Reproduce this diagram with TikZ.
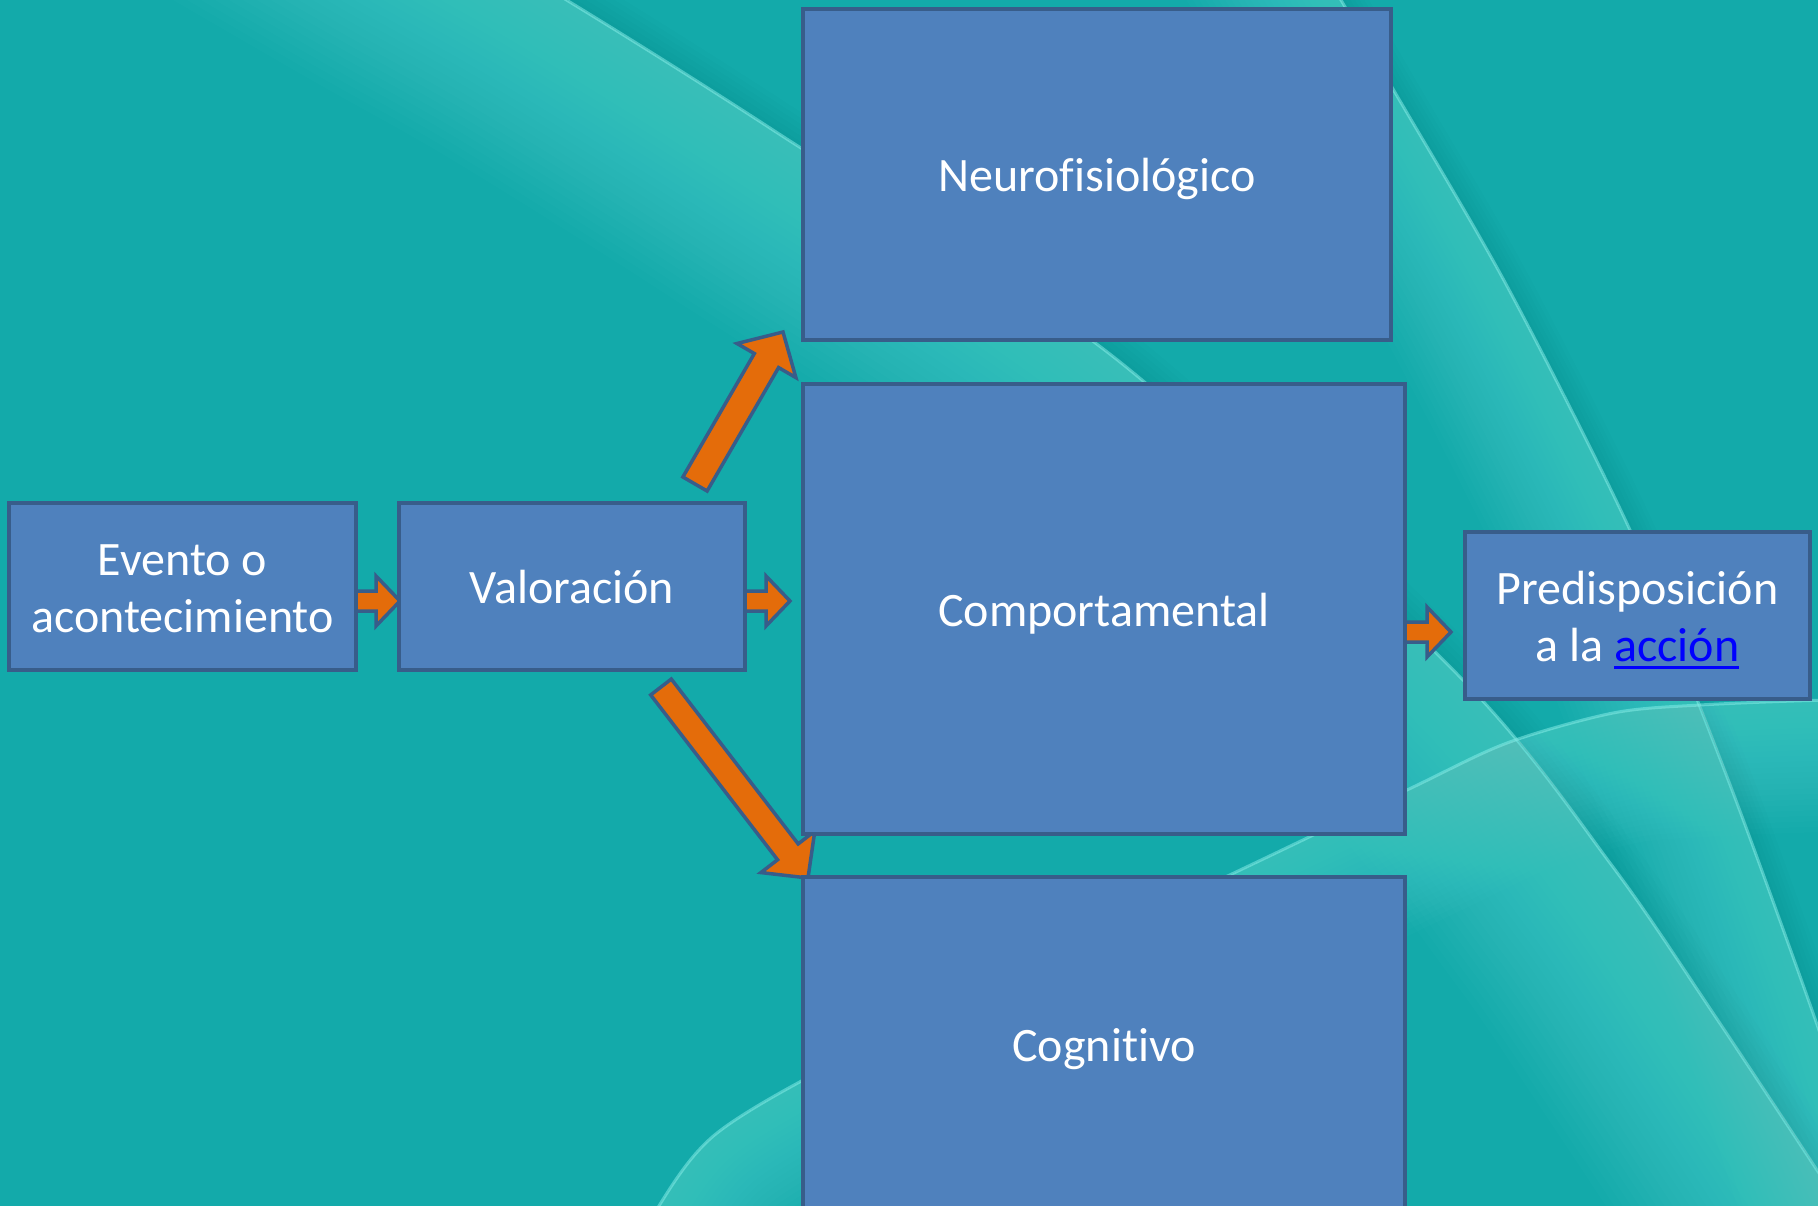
\documentclass[tikz,border=0pt]{standalone}
\usepackage{fontspec}
\setmainfont{Carlito}[Ligatures={NoCommon}]
\usetikzlibrary{calc}

\definecolor{teal0}{HTML}{13AAAA}
\definecolor{sheencol}{HTML}{8AF0EA}
\definecolor{boxfill}{HTML}{4F81BD}
\definecolor{boxline}{HTML}{385D8A}
\definecolor{arrowfill}{HTML}{E46C0A}
\definecolor{linkblue}{HTML}{0000FF}

\pgfdeclarelayer{backdrop}
\pgfdeclarelayer{arrowlayer}
\pgfsetlayers{backdrop,arrowlayer,main}

\tikzset{
  stage/.style={draw=boxline, fill=boxfill, line width=4pt, line join=miter,
    text=white, align=center, inner sep=0pt,
    font=\fontsize{48}{57}\selectfont},
  blockarrow/.style={draw=boxline, fill=arrowfill, line width=3.5pt, line join=miter},
  sheen/.style={sheencol, line cap=butt, line join=round}
}

% a line of box text, set slightly low without changing its size
\newcommand\boxline[2][4.5pt]{\raisebox{-#1}[\height][\depth]{#2}}
% underlined hyperlink-style word
\newcommand\linkword[1]{{\color{linkblue}\setbox0\hbox{#1}\rlap{\rule[-8pt]{\wd0}{3pt}}\box0}}

% wide block arrow: tail, tip, shaft half width, head half width, head length
\newcommand\blockarrow[5]{%
  \draw[blockarrow] let \p1=(#1), \p2=(#2),
    \n1={atan2(\y2-\y1,\x2-\x1)}, \n2={veclen(\x2-\x1,\y2-\y1)} in
    ($(\p1)+(\n1+90:#3pt)$)
    -- ($(\p1)+(\n1:{\n2*1pt-#5pt})+(\n1+90:#3pt)$)
    -- ($(\p1)+(\n1:{\n2*1pt-#5pt})+(\n1+90:#4pt)$)
    -- (\p2)
    -- ($(\p1)+(\n1:{\n2*1pt-#5pt})+(\n1-90:#4pt)$)
    -- ($(\p1)+(\n1:{\n2*1pt-#5pt})+(\n1-90:#3pt)$)
    -- ($(\p1)+(\n1-90:#3pt)$) -- cycle;}

% soft light arcs of the backdrop
\newcommand\arcOne{plot[smooth] coordinates {(150,-240) (400,-95) (550,-10) (773,130) (1120,362) (1463,680) (1613,867) (1713,1013) (1830,1190) (1900,1300) (2000,1450)}}
\newcommand\arcTwo{plot[smooth] coordinates {(1195,-240) (1280,-100) (1335,-10) (1393,89) (1507,286) (1630,530) (1700,707) (1747,830) (1813,1013) (1845,1110) (1880,1220) (1930,1380)}}
\newcommand\arcThree{plot[smooth] coordinates {(510,1400) (590,1300) (640,1235) (717,1133) (900,1030) (1217,881) (1407,790) (1507,743) (1613,713) (1700,705) (1830,700) (1950,700) (2200,700)}}

\begin{document}
\begin{tikzpicture}[x=1pt,y=-1pt]
\useasboundingbox (0,0) rectangle (1818,1206);

% boxes
\node[stage, minimum width=347pt, minimum height=167pt] (evento) at (182.5,586.5) {\boxline[2.2pt]{Evento o}\\\boxline[2.2pt]{acontecimiento}};
\node[stage, minimum width=346pt, minimum height=167pt] (valor) at (572,586.5) {\boxline[1pt]{Valoración}};
\node[stage, minimum width=588pt, minimum height=331pt] (neuro) at (1097,174.5) {\boxline{Neurofisiológico}};
\node[stage, minimum width=602pt, minimum height=450pt] (comport) at (1104,609) {\boxline{Comportamental}};
\node[stage, minimum width=602pt, minimum height=336pt] (cogn) at (1104,1045) {\boxline{Cognitivo}};
\node[stage, minimum width=345pt, minimum height=167pt] (pred) at (1637.5,615.5) {\boxline{Predisposición}\\\boxline{a la \linkword{acción}}};

% backdrop
\begin{pgfonlayer}{backdrop}
  \fill[teal0] (0,0) rectangle (1818,1206);
  \begin{scope}
    \clip (0,0) rectangle (1818,1206);
    % first arc, lit on its lower left
    \begin{scope}
      \clip \arcOne -- (-400,1450) -- (-400,-240) -- cycle;
      \foreach \i in {1,...,28}
        \draw[sheen, opacity=0.018, line width={\i*14pt}] \arcOne;
    \end{scope}
    \begin{scope}
      \clip \arcOne -- (2400,1450) -- (2400,-240) -- cycle;
      \foreach \i in {1,...,6}
        \draw[black, opacity=0.012, line width={\i*10pt}] \arcOne;
    \end{scope}
    \draw[sheen, opacity=0.5, line width=3pt] \arcOne;
    % second arc, lit on its left
    \begin{scope}
      \clip \arcTwo -- (-400,1380) -- (-400,-240) -- cycle;
      \foreach \i in {1,...,24}
        \draw[sheen, opacity=0.018, line width={\i*11pt}] \arcTwo;
    \end{scope}
    \begin{scope}
      \clip \arcTwo -- (2400,1380) -- (2400,-240) -- cycle;
      \foreach \i in {1,...,6}
        \draw[black, opacity=0.012, line width={\i*8pt}] \arcTwo;
    \end{scope}
    \draw[sheen, opacity=0.5, line width=3pt] \arcTwo;
    % third arc, lit below
    \begin{scope}
      \clip \arcThree -- (2200,1600) -- (510,1600) -- cycle;
      \foreach \i in {1,...,24}
        \draw[sheen, opacity=0.018, line width={\i*11pt}] \arcThree;
    \end{scope}
    \draw[sheen, opacity=0.5, line width=3pt] \arcThree;
  \end{scope}
\end{pgfonlayer}

% connectors
\begin{pgfonlayer}{arrowlayer}
  \coordinate (a1s) at ($(evento.east)+(-2,14.5)$);
  \coordinate (a1e) at ($(valor.west)+(3,14.5)$);
  \coordinate (a2s) at ($(valor.east)+(-2,14.5)$);
  \coordinate (a2e) at ($(comport.west)+(-11,-8)$);
  \coordinate (a3s) at ($(comport.east)+(-2,23)$);
  \coordinate (a3e) at ($(pred.west)+(-12,16.5)$);
  \coordinate (ups) at ($(valor.north)+(123,-17)$);
  \coordinate (upe) at ($(neuro.south west)+(-18,-10)$);
  \coordinate (dns) at ($(valor.south)+(89,15)$);
  \coordinate (dne) at ($(cogn.north west)+(7,3)$);
  \blockarrow{a1s}{a1e}{10}{25}{24}
  \blockarrow{a2s}{a2e}{10}{25}{24}
  \blockarrow{a3s}{a3e}{10}{25}{24}
  \blockarrow{ups}{upe}{14}{34}{33}
  \blockarrow{dns}{dne}{13}{34}{33}
\end{pgfonlayer}
\end{tikzpicture}
\end{document}
